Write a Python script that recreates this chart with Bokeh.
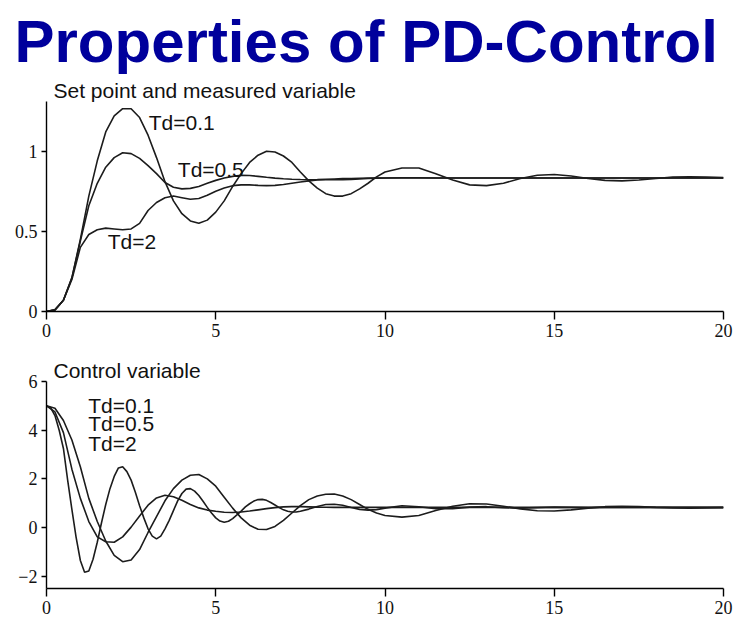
from bokeh.plotting import figure
from bokeh.models import Label, Title, FixedTicker, CustomJSTickFormatter
from bokeh.layouts import column
from bokeh.embed import file_html
from bokeh.resources import INLINE

# ---------------- data ----------------
t = [0, 0.25, 0.5, 0.75, 1.0, 1.25, 1.5, 1.75, 2.0, 2.25, 2.5, 2.75, 3.0, 3.25, 3.5,
     3.75, 4.0, 4.25, 4.5, 4.75, 5.0, 5.25, 5.5, 5.75, 6.0, 6.25, 6.5, 6.75, 7.0, 7.25,
     7.5, 7.75, 8.0, 8.25, 8.5, 8.75, 9.0, 9.25, 9.5, 9.75, 10.0, 10.5, 11.0, 11.5, 12.0,
     12.5, 13.0, 13.5, 14.0, 14.5, 15.0, 15.5, 16.0, 16.5, 17.0, 17.5, 18.0, 18.5, 19.0,
     19.5, 20.0]

# Set point and measured variable
y_td01 = [0, 0.01, 0.07, 0.21, 0.45, 0.72, 0.94, 1.12, 1.22, 1.265, 1.265, 1.21, 1.1, 0.96,
          0.81, 0.69, 0.61, 0.565, 0.55, 0.57, 0.62, 0.69, 0.78, 0.86, 0.93, 0.975, 1.0,
          0.995, 0.97, 0.93, 0.87, 0.815, 0.77, 0.735, 0.72, 0.72, 0.735, 0.765, 0.8, 0.84,
          0.87, 0.895, 0.895, 0.86, 0.82, 0.79, 0.785, 0.8, 0.83, 0.85, 0.855, 0.845, 0.83,
          0.818, 0.815, 0.82, 0.83, 0.838, 0.84, 0.838, 0.835]
y_td05 = [0, 0.01, 0.07, 0.21, 0.44, 0.66, 0.8, 0.9, 0.96, 0.99, 0.985, 0.955, 0.91, 0.86,
          0.805, 0.775, 0.765, 0.768, 0.78, 0.8, 0.818, 0.833, 0.843, 0.85, 0.848, 0.843,
          0.837, 0.832, 0.828, 0.825, 0.823, 0.822, 0.823, 0.825, 0.827, 0.829, 0.83, 0.831,
          0.832, 0.833, 0.833, 0.834, 0.834, 0.833, 0.833, 0.833, 0.833, 0.833, 0.833, 0.833,
          0.833, 0.833, 0.833, 0.833, 0.833, 0.833, 0.833, 0.833, 0.833, 0.833, 0.833]
y_td2 = [0, 0.01, 0.07, 0.2, 0.4, 0.48, 0.51, 0.52, 0.515, 0.51, 0.515, 0.55, 0.63, 0.68,
         0.71, 0.72, 0.71, 0.7, 0.705, 0.725, 0.75, 0.77, 0.785, 0.79, 0.79, 0.787, 0.785,
         0.787, 0.792, 0.8, 0.808, 0.815, 0.82, 0.822, 0.822, 0.822, 0.824, 0.827, 0.83,
         0.832, 0.833, 0.833, 0.833, 0.833, 0.833, 0.833, 0.833, 0.833, 0.833, 0.833, 0.833,
         0.833, 0.833, 0.833, 0.833, 0.833, 0.833, 0.833, 0.833, 0.833, 0.833]

# Control variable
u_td01 = [5.0, 4.9, 4.4, 3.6, 2.5, 1.2, 0.25, -0.55, -1.14, -1.4, -1.33, -0.9, -0.2, 0.45,
          1.1, 1.6, 1.95, 2.15, 2.18, 2.0, 1.7, 1.25, 0.8, 0.4, 0.1, -0.07, -0.08, 0.05, 0.3,
          0.6, 0.9, 1.15, 1.3, 1.37, 1.38, 1.3, 1.15, 0.95, 0.75, 0.6, 0.5, 0.43, 0.5, 0.7,
          0.88, 0.98, 0.97, 0.88, 0.77, 0.69, 0.68, 0.73, 0.8, 0.86, 0.88, 0.86, 0.83, 0.81,
          0.8, 0.81, 0.82]
u_td05 = [5.0, 4.75, 3.9, 2.4, 1.2, 0.25, -0.38, -0.58, -0.6, -0.38, 0.02, 0.48, 0.92, 1.22,
          1.33, 1.27, 1.12, 0.95, 0.81, 0.72, 0.67, 0.63, 0.62, 0.64, 0.68, 0.73, 0.78, 0.82,
          0.85, 0.86, 0.86, 0.85, 0.84, 0.835, 0.83, 0.83, 0.83, 0.83, 0.831, 0.832, 0.833,
          0.833, 0.833, 0.833, 0.833, 0.833, 0.833, 0.833, 0.833, 0.833, 0.833, 0.833, 0.833,
          0.833, 0.833, 0.833, 0.833, 0.833, 0.833, 0.833, 0.833]

# Td=2 control variable oscillates fast: read at a finer time step
t_fast = [0, 0.125, 0.25, 0.375, 0.5, 0.625, 0.75, 0.875, 1.0, 1.125, 1.25, 1.375, 1.5,
          1.625, 1.75, 1.875, 2.0, 2.125, 2.25, 2.375, 2.5, 2.625, 2.75, 2.875, 3.0, 3.125,
          3.25, 3.375, 3.5, 3.625, 3.75, 3.875, 4.0, 4.125, 4.25, 4.375, 4.5, 4.625, 4.75,
          4.875, 5.0, 5.125, 5.25, 5.375, 5.5, 5.625, 5.75, 5.875, 6.0, 6.125, 6.25, 6.375,
          6.5, 6.625, 6.75, 6.875, 7.0, 7.125, 7.25, 7.375, 7.5, 7.75, 8.0, 8.25, 8.5, 8.75,
          9.0, 9.25, 9.5, 9.75, 10.0, 10.5, 11.0, 11.5, 12.0, 12.5, 13.0, 13.5, 14.0, 14.5,
          15.0, 15.5, 16.0, 16.5, 17.0, 17.5, 18.0, 18.5, 19.0, 19.5, 20.0]
u_td2 = [5.0, 4.92, 4.6, 4.0, 3.25, 1.95, 0.75, -0.4, -1.35, -1.83, -1.78, -1.3, -0.6, 0.2,
         0.95, 1.6, 2.1, 2.45, 2.5, 2.3, 1.95, 1.45, 0.9, 0.4, -0.05, -0.35, -0.46, -0.35,
         -0.05, 0.3, 0.7, 1.1, 1.4, 1.58, 1.6, 1.5, 1.32, 1.08, 0.83, 0.6, 0.4, 0.27, 0.22,
         0.26, 0.37, 0.52, 0.68, 0.85, 0.98, 1.09, 1.15, 1.16, 1.12, 1.03, 0.93, 0.82, 0.73,
         0.67, 0.64, 0.64, 0.67, 0.76, 0.87, 0.95, 0.96, 0.92, 0.83, 0.75, 0.72, 0.74, 0.8,
         0.9, 0.86, 0.78, 0.78, 0.84, 0.86, 0.82, 0.8, 0.82, 0.84, 0.83, 0.82, 0.83, 0.835,
         0.83, 0.83, 0.832, 0.833, 0.833, 0.833]

x_ticks = [0, 5, 10, 15, 20]
y1_ticks = [0, 0.5, 1]
y2_ticks = [-2, 0, 2, 4, 6]
series_labels = ["Td=0.1", "Td=0.5", "Td=2"]

LINE = "#1c1c1c"
SANS = "Liberation Sans"
SERIF = "Liberation Serif"


def style(p, yticks):
    p.outline_line_color = None
    p.grid.visible = False
    p.background_fill_color = "white"
    p.border_fill_color = "white"
    p.xaxis.ticker = FixedTicker(ticks=x_ticks)
    p.yaxis.ticker = FixedTicker(ticks=yticks)
    fmt = CustomJSTickFormatter(code="return String(tick).replace('-', '\u2212');")
    for ax in p.xaxis + p.yaxis:
        ax.formatter = fmt
        ax.major_label_text_font = SERIF
        ax.major_label_text_font_size = "18px"
        ax.major_label_text_color = "#111111"
        ax.minor_tick_line_color = None
        ax.axis_line_color = "black"
        ax.axis_line_width = 1.4
        ax.major_tick_line_color = "black"
        ax.major_tick_line_width = 1.4
        ax.major_tick_in = 0
    p.xaxis.major_tick_out = 8
    p.xaxis.major_label_standoff = 4
    p.yaxis.major_tick_out = 5
    p.yaxis.major_label_standoff = 4


def lab(p, x, y, text):
    p.add_layout(Label(x=x, y=y, text=text, text_font=SANS, text_font_size="21px",
                       text_color="#111111", text_baseline="alphabetic"))


def head(text, size, offset, standoff, color="#111111", bold=False):
    return Title(text=text, align="left", offset=offset, standoff=standoff,
                 text_font=SANS, text_font_size=size, text_color=color,
                 text_font_style="bold" if bold else "normal")


# ---------------- top figure ----------------
p1 = figure(width=739, height=345, x_range=(0, 20), y_range=(0, 1.31), title=None,
            output_backend="svg", toolbar_location=None,
            min_border_left=46, min_border_right=16, min_border_top=101, min_border_bottom=34)
style(p1, y1_ticks)
for ys in (y_td01, y_td05, y_td2):
    p1.line(t, ys, line_color=LINE, line_width=1.6)

p1.add_layout(head("Set point and measured variable", "21px", 7, 0), "above")
p1.add_layout(head("Properties of PD-Control", "60px", -32, 4, color="#00009C", bold=True), "above")
lab(p1, 3.02, 1.181, series_labels[0])
lab(p1, 3.88, 0.886, series_labels[1])
lab(p1, 1.81, 0.436, series_labels[2])

# ---------------- bottom figure ----------------
p2 = figure(width=739, height=278, x_range=(0, 20), y_range=(-2.5, 6), title=None,
            output_backend="svg", toolbar_location=None,
            min_border_left=46, min_border_right=16, min_border_top=36, min_border_bottom=35)
style(p2, y2_ticks)
p2.line(t, u_td01, line_color=LINE, line_width=1.6)
p2.line(t, u_td05, line_color=LINE, line_width=1.6)
p2.line(t_fast, u_td2, line_color=LINE, line_width=1.6)

p2.add_layout(head("Control variable", "21px", 7, 0), "above")
lab(p2, 1.23, 5.02, series_labels[0])
lab(p2, 1.23, 4.26, series_labels[1])
lab(p2, 1.23, 3.44, series_labels[2])

layout = column(p1, p2, spacing=0)
open("out.html", "w").write(file_html(layout, INLINE))
